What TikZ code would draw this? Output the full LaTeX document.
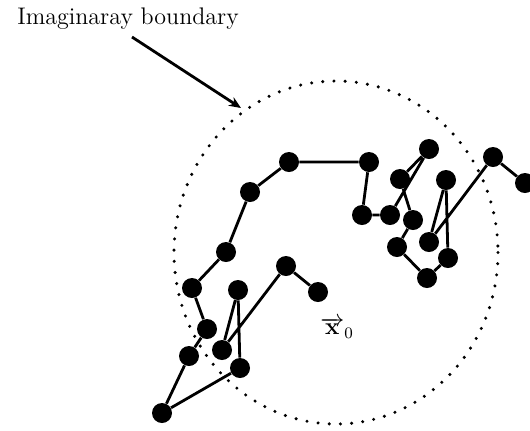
\documentclass[tikz,border=0pt]{standalone}
\usetikzlibrary{arrows.meta}
\begin{document}
\begin{tikzpicture}[x=0.5pt,y=-0.5pt,
  dot/.style={circle,fill=black,inner sep=0pt,minimum size=10pt},
  walk/.style={line width=1.4pt},
  bound/.style={line width=1.7pt,line cap=round,dash pattern=on 0pt off 5.6pt},
  pointer/.style={line width=1.4pt,-{Stealth[length=6pt,width=5pt]}}]
\useasboundingbox (0,0) rectangle (530,430);
% boundary
\draw[bound] (336,252.5) ellipse [x radius=162, y radius=171.5];
% nodes
\node[dot] (a) at (289,162) {};
\node[dot] (b) at (250,192) {};
\node[dot] (c) at (226,252) {};
\node[dot] (d) at (192,288) {};
\node[dot] (e) at (238,290) {};
\node[dot] (f) at (286,266) {};
\node[dot] (g) at (318,292) {};
\node[dot] (h) at (207,329) {};
\node[dot] (i) at (189,356) {};
\node[dot] (j) at (222,350) {};
\node[dot] (k) at (240,368) {};
\node[dot] (l) at (162,413) {};
\node[dot] (m) at (369,162) {};
\node[dot] (n) at (362,215) {};
\node[dot] (o) at (390,215) {};
\node[dot] (p) at (400,179) {};
\node[dot] (q) at (429,149) {};
\node[dot] (r) at (413,220) {};
\node[dot] (s) at (397,247) {};
\node[dot] (t) at (427,278) {};
\node[dot] (u) at (448,258) {};
\node[dot] (v) at (446,180) {};
\node[dot] (w) at (429,242) {};
\node[dot] (x) at (493,157) {};
\node[dot] (y) at (525,183) {};
% walk
\draw[walk] (g) -- (f) -- (j) -- (e) -- (k) -- (l) -- (i) -- (h) -- (d)
  -- (c) -- (b) -- (a) -- (m) -- (n) -- (o) -- (q) -- (p) -- (r) -- (s)
  -- (t) -- (u) -- (v) -- (w) -- (x) -- (y);
% labels
\node[font=\fontsize{12}{14}\selectfont] (lab) at (128,19) {Imaginaray boundary};
\node[font=\fontsize{12}{14}\selectfont,inner sep=0.5pt] (x0) at (337,328) {$\overrightarrow{\mathbf{x}}_0$};
\coordinate (tip) at (241,108);
\draw[pointer] (132,37) -- (tip);
\end{tikzpicture}
\end{document}
